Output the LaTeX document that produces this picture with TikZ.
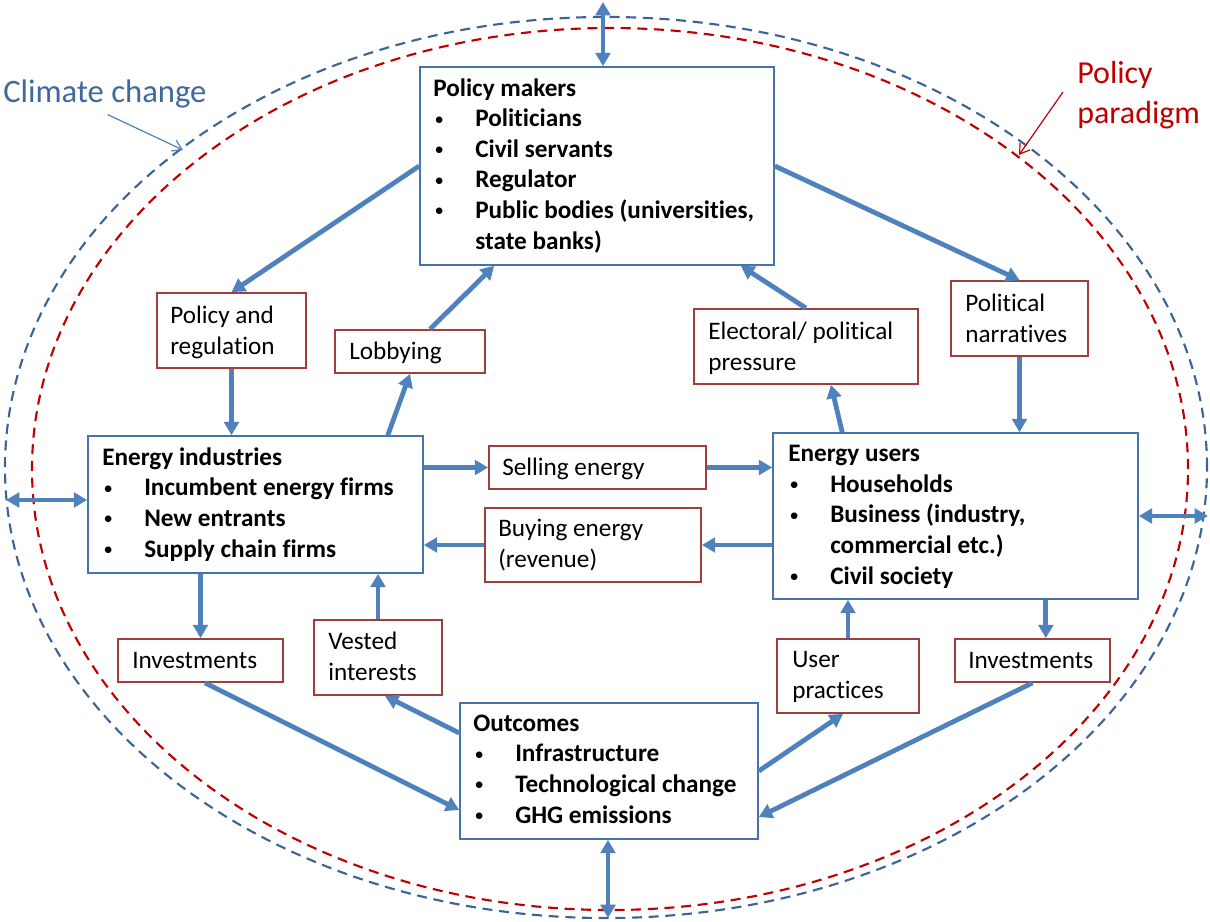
\documentclass[tikz,border=0pt]{standalone}
\usepackage{fontspec}
\setmainfont{Carlito}[Ligatures=NoCommon]
\usetikzlibrary{arrows.meta,fit}
\definecolor{arrblue}{RGB}{79,129,189}
\definecolor{boxblue}{RGB}{70,115,175}
\definecolor{boxred}{RGB}{160,62,60}
\definecolor{ellblue}{RGB}{62,100,150}
\definecolor{ellred}{RGB}{192,0,0}
\definecolor{ccblue}{RGB}{62,104,158}
\newcommand{\itm}[1]{\makebox[31.5pt][l]{\hspace{1pt}\raisebox{1.2pt}{\fontsize{14}{14}\selectfont\textbullet}}\textbf{#1}}
\newcommand{\itmcont}[1]{\hspace{31.5pt}\textbf{#1}}
\begin{document}
\begin{tikzpicture}[x=0.75pt,y=-0.75pt,
  font=\fontsize{18.9}{22.9}\selectfont,
  >={Triangle[width=11pt,length=10pt]},
  bluebox/.style={draw=boxblue,line width=1.2pt,inner sep=0pt,fill=white},
  redbox/.style={draw=boxred,line width=1.3pt,inner sep=0pt,fill=white},
  txt/.style={inner sep=0pt,align=left,anchor=base west},
  flow/.style={draw=arrblue,line width=3.6pt,->},
  dflow/.style={draw=arrblue,line width=3.6pt,<->},
  note/.style={line width=0.9pt,-{Straight Barb[length=7pt,width=9pt]}},
  ell/.style={line width=1.6pt,dash pattern=on 7.5pt off 5pt}]
\useasboundingbox (0,0) rectangle (1210,921);

% dashed ellipses
\draw[ell,draw=ellblue] (606,467.5) ellipse [x radius=450.75pt,y radius=337.9pt];
\draw[ell,draw=ellred] (610,469) ellipse [x radius=433.5pt,y radius=330.75pt];

% main boxes
\node[bluebox,fit={(420,67) (774,265)}] (pm) {};
\node[bluebox,fit={(88,436) (423,573)}] (ei) {};
\node[bluebox,fit={(773,433) (1138,599)}] (eu) {};
\node[bluebox,fit={(460,703) (758,839)}] (oc) {};

% red boxes
\node[redbox,fit={(157,293) (306,368)}] (pr) {};
\node[redbox,fit={(335,330) (485,373)}] (lb) {};
\node[redbox,fit={(694,309) (918,384)}] (ep) {};
\node[redbox,fit={(951,281) (1088,356)}] (pn) {};
\node[redbox,fit={(489,446) (706,489)}] (se) {};
\node[redbox,fit={(485,508) (701,582)}] (be) {};
\node[redbox,fit={(118,639) (283,682)}] (il) {};
\node[redbox,fit={(314,620) (442,695)}] (vi) {};
\node[redbox,fit={(777,639) (919,713)}] (up) {};
\node[redbox,fit={(955,639) (1110,682)}] (ir) {};

% texts of main boxes (anchor: baseline of the last line)
\node[txt] (pmt) at (433,249) {\textbf{Policy makers}\\\itm{Politicians}\\\itm{Civil servants}\\\itm{Regulator}\\\itm{Public bodies (universities,}\\\itmcont{state banks)}};
\node[txt] (eit) at (102,557) {\textbf{Energy industries}\\\itm{Incumbent energy firms}\\\itm{New entrants}\\\itm{Supply chain firms}};
\node[txt] (eut) at (788,584) {\textbf{Energy users}\\\itm{Households}\\\itm{Business (industry,}\\\itmcont{commercial etc.)}\\\itm{Civil society}};
\node[txt] (oct) at (473,823) {\textbf{Outcomes}\\\itm{Infrastructure}\\\itm{Technological change}\\\itm{GHG emissions}};

% texts of red boxes
\node[txt] (prt) at (170,354) {Policy and\\regulation};
\node[txt] (lbt) at (349,359) {Lobbying};
\node[txt] (ept) at (708,370) {Electoral/ political\\pressure};
\node[txt] (pnt) at (965,342) {Political\\narratives};
\node[txt] (set) at (502,475) {Selling energy};
\node[txt] (bet) at (498,567) {Buying energy\\(revenue)};
\node[txt] (ilt) at (132,668) {Investments};
\node[txt] (vit) at (328,680) {Vested\\interests};
\node[txt] (upt) at (792,698) {User\\practices};
\node[txt] (irt) at (968,668) {Investments};

% annotations
\node[txt,text=ccblue,font=\fontsize{24.5}{30}\selectfont] (cc) at (3,102) {Climate change};
\node[txt,text=ellred,font=\fontsize{24}{30}\selectfont] (ppt) at (1077,123) {Policy\\paradigm};
\coordinate (ccB) at (183,150);
\coordinate (ppB) at (1019,155);
\draw[note,draw=arrblue] ([xshift=2pt,yshift=-5pt]cc.south) -- (ccB);
\draw[note,draw=ellred] ([xshift=-10.5pt,yshift=2pt]ppt.west) -- (ppB);

% flows
\draw[flow] (pm.west) -- (pr.north);
\draw[flow] ([xshift=15pt]lb.north) -- ([xshift=56.25pt]pm.south west);
\draw[flow] (ep.north) -- ([xshift=-25.5pt]pm.south east);
\draw[flow] (pm.east) -- (pn.north);
\draw[flow] (pr.south) -- (pr.south |- ei.north);
\draw[flow] ([xshift=-27pt]ei.north east) -- (lb.south);
\draw[flow] (se.west -| ei.east) -- (se.west);
\draw[flow] (se.east) -- (se.east -| eu.west);
\draw[flow] (be.east -| eu.west) -- (be.east);
\draw[flow] (be.west) -- (be.west -| ei.east);
\draw[flow] ([xshift=52.5pt]eu.north west) -- ([xshift=18.75pt]ep.south);
\draw[flow] (pn.south) -- (pn.south |- eu.north);
\draw[flow] (il.north |- ei.south) -- (il.north);
\draw[flow] ([xshift=3.4pt]il.south) -- ([yshift=-29.25pt]oc.west);
\draw[flow] ([yshift=28.5pt]oc.west) -- ([xshift=5.25pt]vi.south);
\draw[flow] (vi.north) -- (vi.north |- ei.south);
\draw[flow] (oc.east) -- ([xshift=-3.75pt]up.south);
\draw[flow] (up.north) -- (up.north |- eu.south);
\coordinate (irin) at ([xshift=10pt]ir.north);
\draw[flow] (irin |- eu.south) -- (irin);
\draw[flow] (ir.south) -- ([yshift=-34.5pt]oc.east);

% double arrows to the outside
\coordinate (topc) at (603,2);
\coordinate (leftc) at (6,500);
\coordinate (rightc) at (1208,516);
\coordinate (botc) at (608,918);
\draw[dflow] (topc) -- (topc |- pm.north);
\draw[dflow] (leftc) -- (leftc -| ei.west);
\draw[dflow] (rightc -| eu.east) -- (rightc);
\draw[dflow] (botc |- oc.south) -- (botc);
\end{tikzpicture}
\end{document}
